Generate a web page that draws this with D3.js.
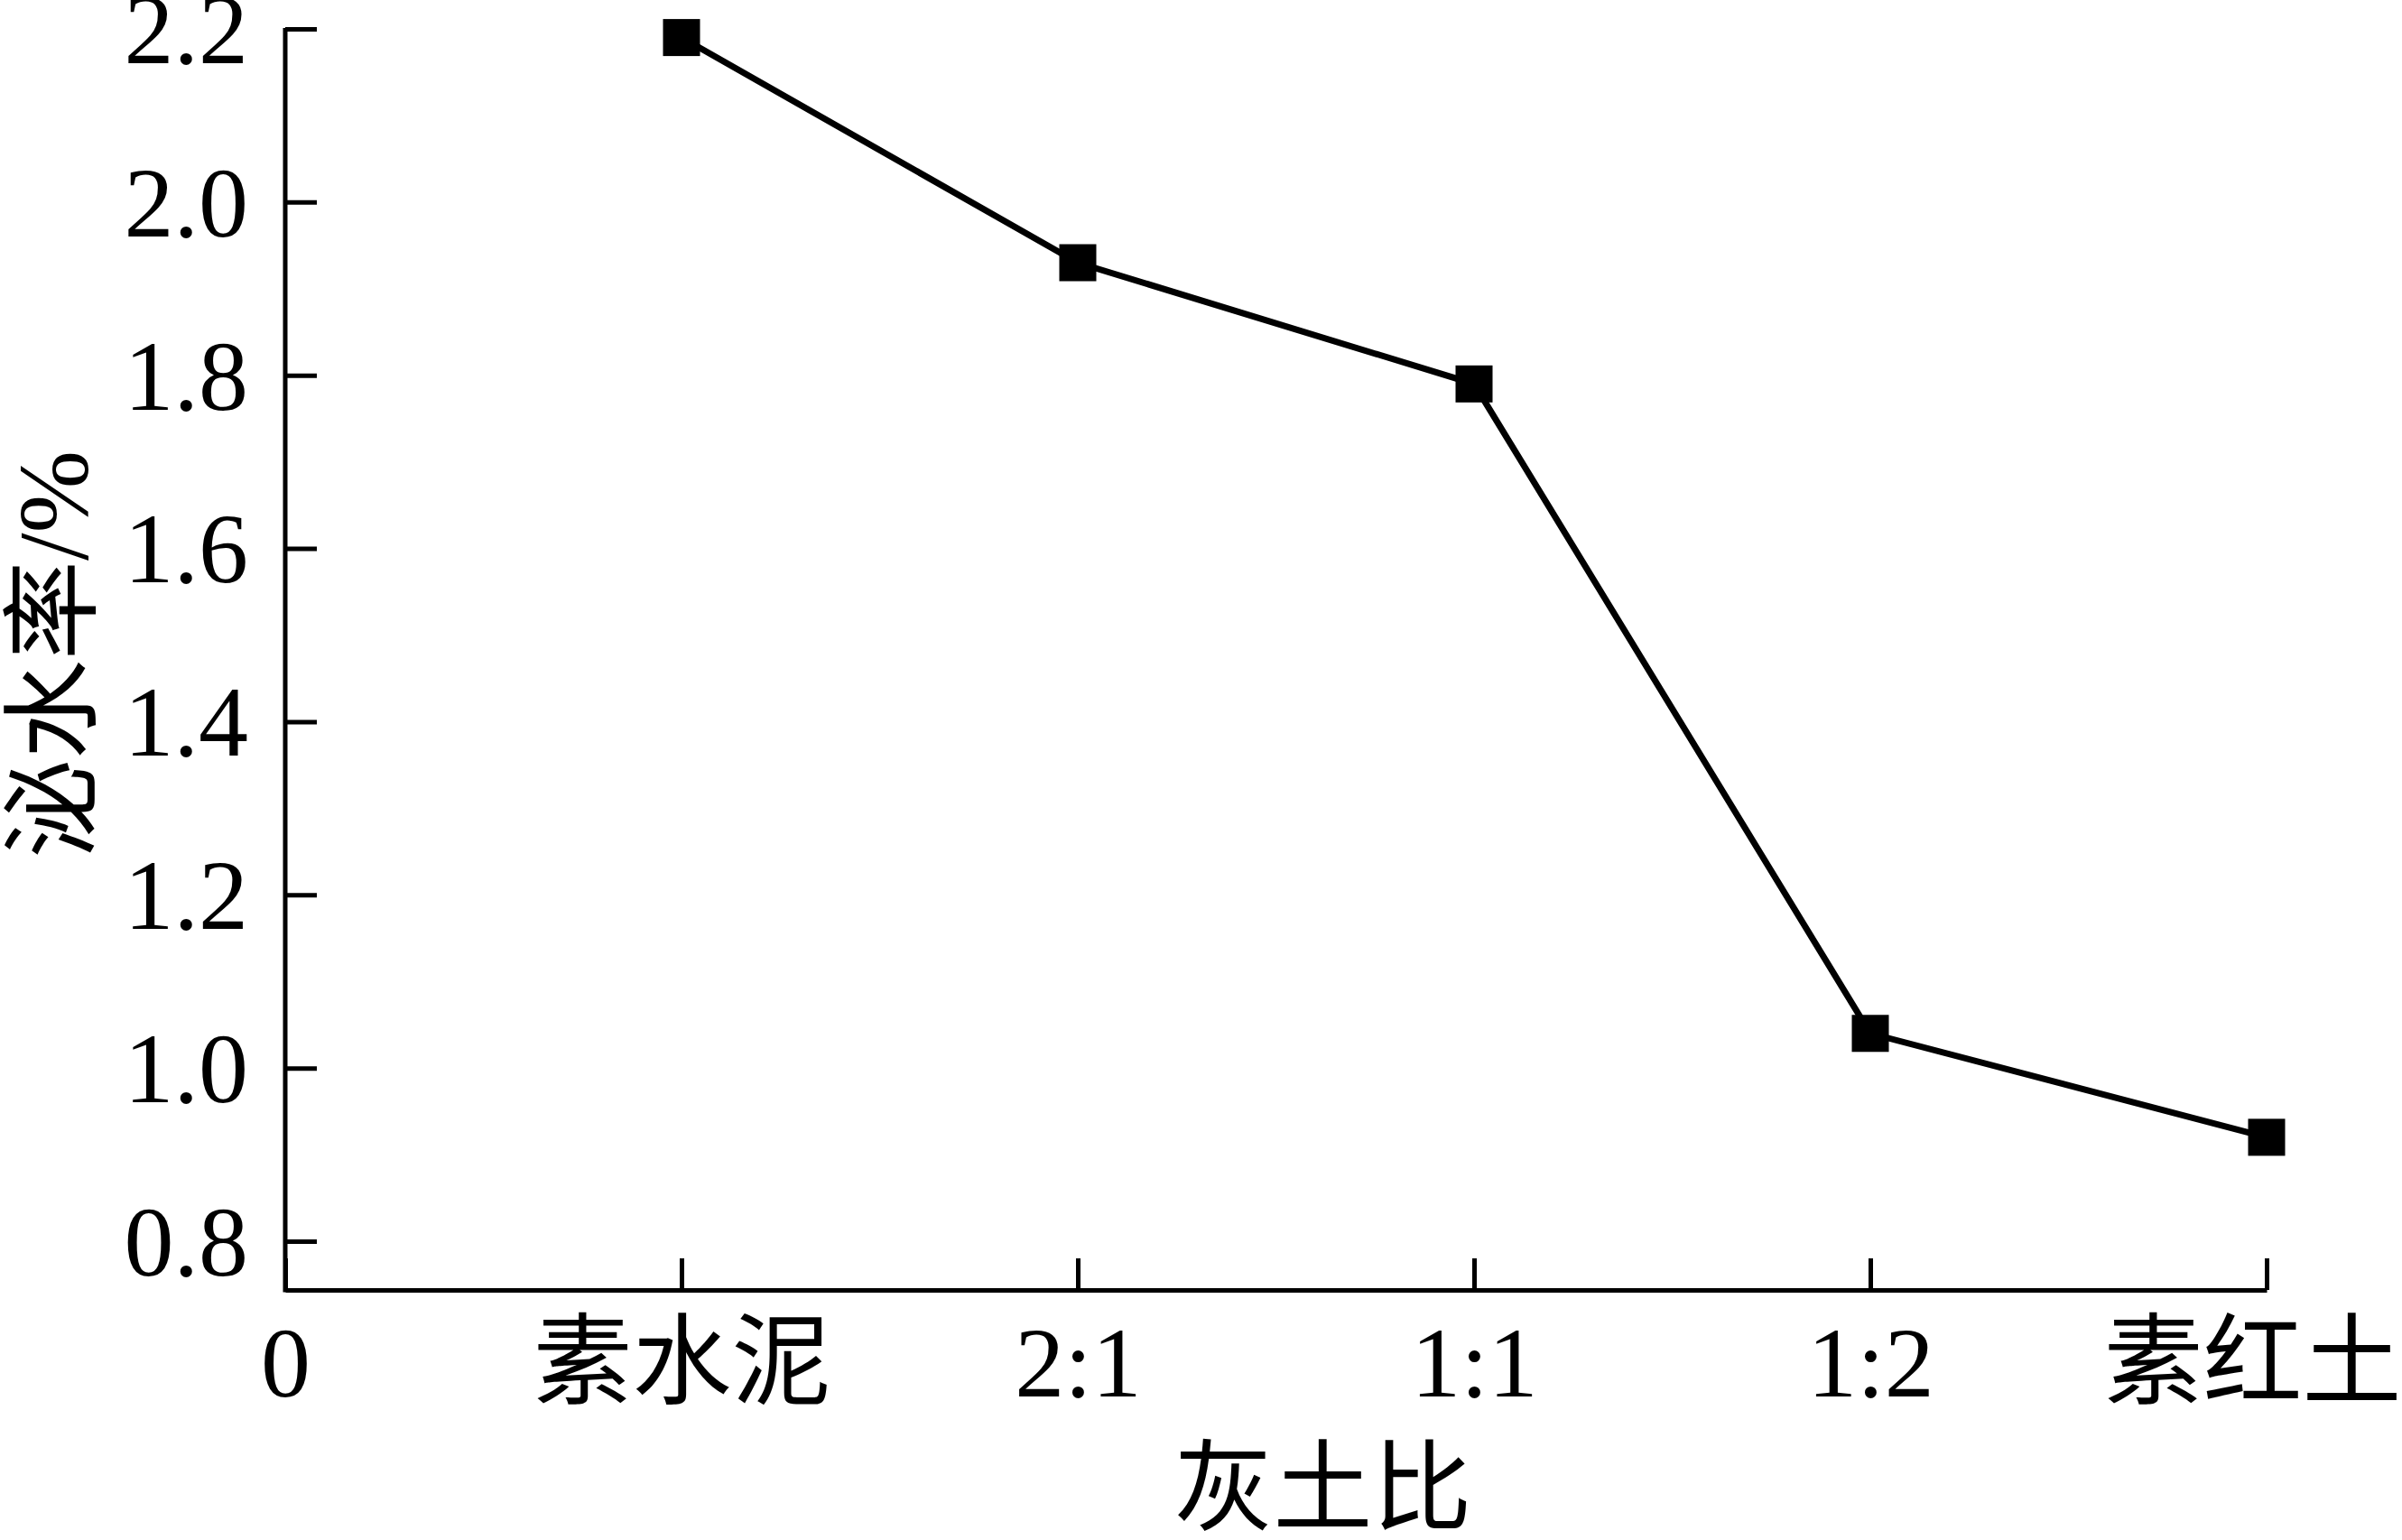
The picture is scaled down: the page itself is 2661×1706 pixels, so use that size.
<!DOCTYPE html>
<html>
<head>
<meta charset="utf-8">
<script src="https://cdn.jsdelivr.net/npm/d3@7"></script>
<style>
  html, body { margin: 0; padding: 0; background: #fff; }
  svg text { font-family: "Liberation Serif", "Times New Roman", "Noto Sans CJK SC", serif; fill: #000; }
</style>
</head>
<body>
<svg id="chart"></svg>
<script>
// data
const categories = ['素水泥', '2:1', '1:1', '1:2', '素红土'];
const bleedRate = [2.19, 1.93, 1.79, 1.04, 0.92];
const yTicks = [0.8, 1.0, 1.2, 1.4, 1.6, 1.8, 2.0, 2.2];

const W = 2661, H = 1706;
const plotLeft = 316, plotRight = 2511, plotTop = 32, plotBottom = 1429;
const fontSize = 110;

const svg = d3.select('#chart')
  .attr('width', W)
  .attr('height', H);

svg.append('rect').attr('width', W).attr('height', H).attr('fill', '#fff');

// x: position 0 is the origin, categories at 1..5
const x = d3.scaleLinear()
  .domain([0, categories.length])
  .range([plotLeft, plotRight]);

const y = d3.scaleLinear()
  .domain([0.8, 2.2])
  .range([1375, plotTop]);

// x axis
const xAxis = svg.append('g')
  .attr('transform', `translate(0,${plotBottom})`)
  .call(d3.axisBottom(x)
    .tickValues(d3.range(0, categories.length + 1))
    .tickFormat(i => i === 0 ? '0' : categories[i - 1])
    .tickSizeInner(-35)
    .tickSizeOuter(0)
    .tickPadding(40));

xAxis.select('.domain').attr('stroke', '#000').attr('stroke-width', 5);
xAxis.selectAll('.tick line').attr('stroke', '#000').attr('stroke-width', 5);
xAxis.selectAll('.tick text')
  .attr('y', 40)
  .attr('dy', '0.71em')
  .attr('dx', i => i === categories.length ? -16 : 0)
  .style('font-size', fontSize + 'px');

// y axis
const yAxis = svg.append('g')
  .attr('transform', `translate(${plotLeft},0)`)
  .call(d3.axisLeft(y)
    .tickValues(yTicks)
    .tickFormat(d3.format('.1f'))
    .tickSizeInner(-35)
    .tickSizeOuter(0)
    .tickPadding(41));

yAxis.select('.domain').remove();
yAxis.selectAll('.tick line').attr('stroke', '#000').attr('stroke-width', 5);
yAxis.selectAll('.tick text')
  .attr('dy', '0.34em')
  .style('font-size', fontSize + 'px');

// y axis line runs down to the x axis
svg.append('line')
  .attr('x1', plotLeft).attr('x2', plotLeft)
  .attr('y1', y(2.2) - 1).attr('y2', plotBottom + 2.5)
  .attr('stroke', '#000')
  .attr('stroke-width', 5);

// series line
const line = d3.line()
  .x((d, i) => x(i + 1))
  .y(d => y(d));

svg.append('path')
  .datum(bleedRate)
  .attr('d', line)
  .attr('fill', 'none')
  .attr('stroke', '#000')
  .attr('stroke-width', 7)
  .attr('stroke-linejoin', 'miter');

// square markers
const size = 41;
svg.selectAll('.marker')
  .data(bleedRate)
  .enter().append('rect')
  .attr('class', 'marker')
  .attr('x', (d, i) => x(i + 1) - size / 2)
  .attr('y', d => y(d) - size / 2)
  .attr('width', size)
  .attr('height', size)
  .attr('fill', '#000');

// axis titles
svg.append('text')
  .attr('x', (plotLeft + plotRight) / 2 + 52)
  .attr('y', 1650)
  .attr('text-anchor', 'middle')
  .attr('dominant-baseline', 'central')
  .style('font-size', fontSize + 'px')
  .text('灰土比');

svg.append('text')
  .attr('transform', 'translate(60,725) rotate(-90)')
  .attr('text-anchor', 'middle')
  .attr('dominant-baseline', 'central')
  .style('font-size', fontSize + 'px')
  .text('泌水率/%');
</script>
</body>
</html>
